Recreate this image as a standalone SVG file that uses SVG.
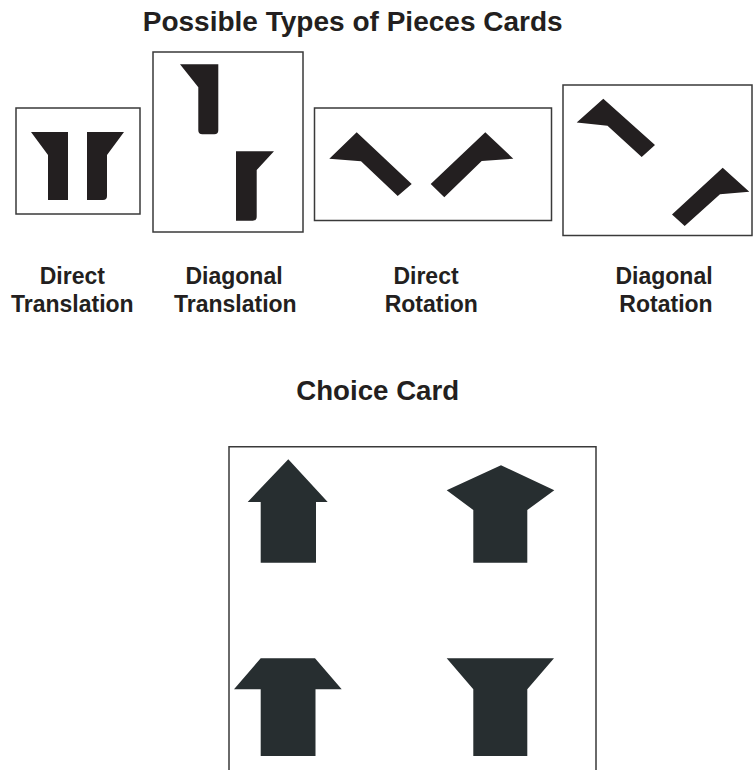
<svg xmlns="http://www.w3.org/2000/svg" width="753" height="770" viewBox="0 0 753 770">
<style>
.card{fill:#fff;stroke:#3a3a3a;stroke-width:1.5}
.pc{fill:#231f20}
.ch{fill:#272e30}
.t{font-family:"Liberation Sans",Arial,sans-serif;font-weight:bold;fill:#231f20;text-anchor:middle}
.h{font-size:27.5px}
.l{font-size:23px}
</style>
<rect width="753" height="770" fill="#fff"/>
<text class="t h" x="352.7" y="31" textLength="420" lengthAdjust="spacingAndGlyphs">Possible Types of Pieces Cards</text>
<g id="card-direct-translation">
<rect class="card" x="16" y="108" width="124" height="106"/>
<path class="pc" d="M31,132 H68 V200 H48 V155 Z"/>
<path class="pc" d="M87,132 H124 L107,155 V196 Q107,200 103,200 H87 Z"/>
</g>
<g id="card-diagonal-translation">
<rect class="card" x="153" y="52" width="150" height="180"/>
<path class="pc" d="M180,64.3 H218.3 V130.3 Q218.3,134.3 214.3,134.3 H202.3 Q198.3,134.3 198.3,130.3 V87.3 Z"/>
<path class="pc" d="M236,151.3 H274 L256.7,170 V216.7 Q256.7,220.7 252.7,220.7 H236 Z"/>
</g>
<g id="card-direct-rotation">
<rect class="card" x="314.5" y="108" width="237" height="112.5"/>
<path class="pc" d="M329.3,158.7 L356.7,132.3 L411.7,184 L397.7,196 L361,161.3 Z"/>
<path class="pc" d="M513.3,158.7 L485.3,132.3 L430.7,184 L444.3,197.3 L481.7,161 Z"/>
</g>
<g id="card-diagonal-rotation">
<rect class="card" x="563" y="85" width="189" height="150.5"/>
<path class="pc" d="M576.7,122.5 L603.3,98.8 L655,145 L641.7,157 L607.5,125.7 Z"/>
<path class="pc" d="M749.3,191.7 L722.7,167.8 L672,214.5 L684.7,226 L720,194.2 Z"/>
</g>
<g id="labels">
<text class="t l" x="72.3" y="284.3">Direct</text>
<text class="t l" x="72.3" y="312">Translation</text>
<text class="t l" x="234" y="284.3">Diagonal</text>
<text class="t l" x="235.3" y="312">Translation</text>
<text class="t l" x="426" y="284.3">Direct</text>
<text class="t l" x="431.3" y="312">Rotation</text>
<text class="t l" x="664" y="284.3">Diagonal</text>
<text class="t l" x="666" y="312">Rotation</text>
</g>
<text class="t h" x="377.7" y="400" textLength="163" lengthAdjust="spacingAndGlyphs">Choice Card</text>
<g id="choice-card">
<path d="M229,772 V446.7 H596 V772" fill="#fff" stroke="#3a3a3a" stroke-width="1.5"/>
<path class="ch" d="M288.3,459.3 L327.7,502 H316 V562.7 H260.7 V502 H247.7 Z"/>
<path class="ch" d="M501,465.3 L554.3,490.3 L527.3,510 V562.7 H473.3 V510 L446.7,490.3 Z"/>
<path class="ch" d="M260.7,658.3 H315 L341.7,689.3 H315.5 V756 H260.7 V689.3 H234 Z"/>
<path class="ch" d="M446.7,658.3 H554 L527.3,689.3 V756 H473.3 V689.3 Z"/>
</g>
</svg>
